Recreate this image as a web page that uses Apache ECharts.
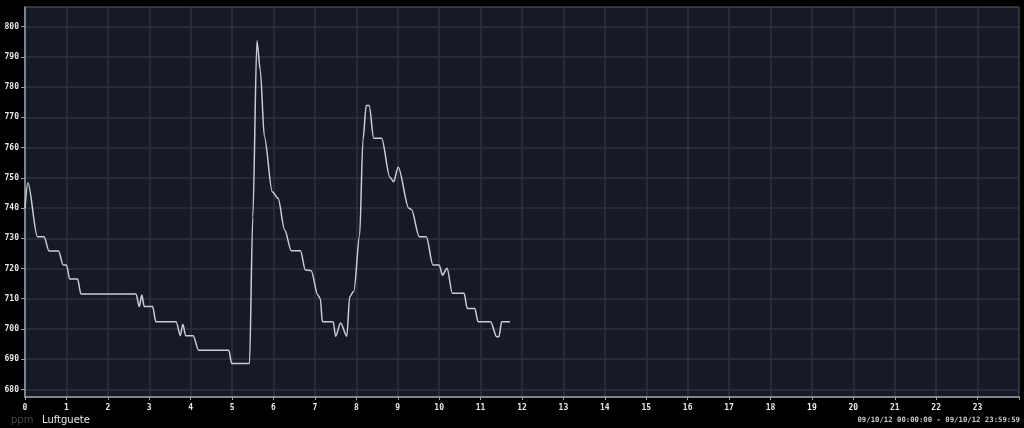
<!DOCTYPE html>
<html>
<head>
<meta charset="utf-8">
<script src="https://cdn.jsdelivr.net/npm/echarts@6/dist/echarts.min.js"></script>
<style>
html,body{margin:0;padding:0;background:#000;}
#chart{width:1024px;height:428px;}
</style>
</head>
<body>
<div id="chart"></div>
<script>
// Hours of day (x) and air quality values in ppm (y)
const hours = [0.00,0.07,0.30,0.46,0.58,0.81,0.92,1.00,1.08,1.27,1.35,2.68,2.76,2.82,2.88,3.08,3.16,3.65,3.75,3.81,3.88,4.06,4.19,4.92,4.99,5.42,5.50,5.60,5.68,5.78,5.97,6.11,6.27,6.43,6.65,6.77,6.91,7.07,7.13,7.18,7.44,7.50,7.62,7.77,7.84,7.94,8.08,8.16,8.24,8.31,8.42,8.61,8.81,8.90,9.01,9.27,9.33,9.52,9.69,9.85,10.00,10.08,10.19,10.32,10.60,10.68,10.86,10.94,11.24,11.39,11.44,11.51,11.71];
const values = [740,748.4,730.5,730.5,725.8,725.8,721.2,721.2,716.5,716.5,711.6,711.6,707.4,711.2,707.4,707.4,702.4,702.4,697.8,701.6,697.8,697.8,693,693,688.6,688.6,737,795.3,785.7,763.6,745.4,743.2,732.7,725.9,725.9,719.5,719.3,711.2,710.1,702.4,702.4,697.6,702,697.6,710.7,712.5,731,762.5,773.9,773.9,763.1,763.1,750.2,748.7,753.5,739.9,739.5,730.5,730.5,721.2,721.2,717.8,720.1,711.8,711.8,706.8,706.8,702.4,702.4,697.4,697.4,702.4,702.4];
const yTicks = [680,690,700,710,720,730,740,750,760,770,780,790,800];
const unitLabel = 'ppm';
const seriesName = 'Luftguete';
const rangeLabel = '09/10/12 00:00:00 - 09/10/12 23:59:59';

const chart = echarts.init(document.getElementById('chart'), null, {renderer:'canvas'});
const tickFont = {color:'#e8e8e8', fontSize:8, fontWeight:'bold', fontFamily:'DejaVu Sans Mono'};
chart.setOption({
  backgroundColor:'#000',
  animation:false,
  grid:{left:25, right:5, top:7, bottom:31, show:true, backgroundColor:'#151a26', borderColor:'#5a5e66', borderWidth:1},
  xAxis:{
    type:'value', min:0, max:24, interval:1,
    axisLine:{lineStyle:{color:'#9a9fa8', width:1.5}},
    axisTick:{show:true, length:3, lineStyle:{color:'#9a9fa8'}},
    axisLabel:Object.assign({margin:7, formatter:v=> v>=24 ? '' : String(v)}, tickFont),
    splitLine:{show:true, lineStyle:{color:'#2b3240', width:1.5}}
  },
  yAxis:{
    type:'value', min:677.5, max:806.5,
    axisLine:{show:true, lineStyle:{color:'#9a9fa8', width:1.5}},
    axisTick:{show:true, length:4, customValues:yTicks, lineStyle:{color:'#9a9fa8'}},
    axisLabel:Object.assign({margin:6, customValues:yTicks}, tickFont),
    splitLine:{show:true, lineStyle:{color:'#2b3240', width:1.5}}
  },
  graphic:[
    {type:'text', x:11, y:420, style:{text:unitLabel, fill:'#4a4a4a', font:'10px "DejaVu Sans"', verticalAlign:'middle'}},
    {type:'text', x:42, y:420, style:{text:seriesName, fill:'#e6e6e6', font:'10px "DejaVu Sans"', verticalAlign:'middle'}},
    {type:'text', x:1020, y:420, style:{text:rangeLabel, fill:'#c8c8c8', font:'bold 7.3px "DejaVu Sans Mono"', align:'right', verticalAlign:'middle'}}
  ],
  series:[{
    type:'line', name:seriesName,
    data:hours.map((h,i)=>[h, values[i]]),
    showSymbol:false, smooth:0.3, smoothMonotone:'x',
    lineStyle:{color:'#c9cdd6', width:1.5}
  }]
});
</script>
</body>
</html>
